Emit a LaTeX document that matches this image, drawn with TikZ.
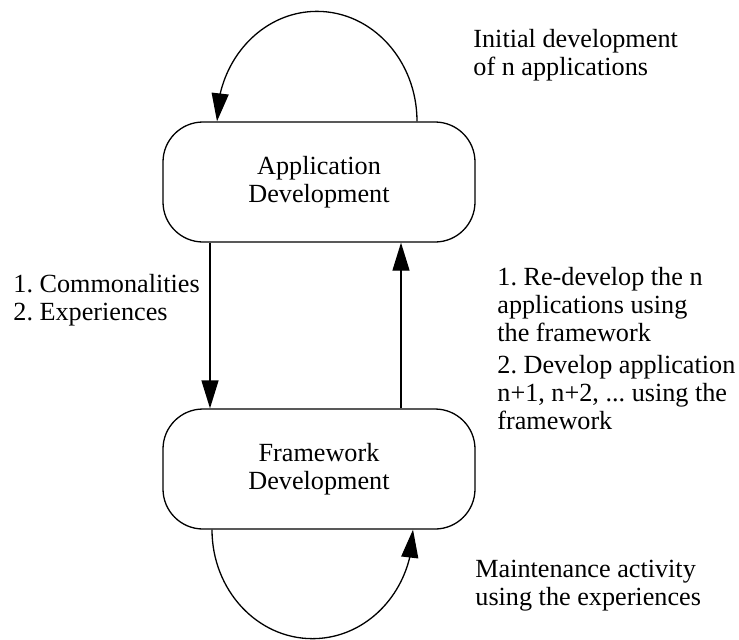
\documentclass[tikz,border=0pt]{standalone}
\usepackage{fontspec}
\setmainfont{Liberation Serif}
\usetikzlibrary{arrows.meta,bending}
\frenchspacing
\begin{document}
\begin{tikzpicture}[x=0.5pt,y=-0.5pt,
  every node/.style={font=\fontsize{13.1pt}{14pt}\selectfont\frenchspacing},
  box/.style={draw,line width=0.65pt,rounded corners=20pt,minimum width=156pt,minimum height=60pt,align=center,inner sep=0pt},
  lbl/.style={anchor=base west,align=left,inner sep=0pt},
  arr/.style={line width=0.65pt,-{Triangle[length=14pt,width=8.5pt,flex]}}]
\useasboundingbox (0,0) rectangle (739,639);
\node[box] (app) at (319,182) {Application\\Development};
\node[box] (fw) at (319,469) {Framework\\Development};
\coordinate (dx) at (210,0);
\coordinate (ux) at (401,0);
\coordinate (tl) at (417,0);
\coordinate (bl) at (212,0);
\draw[arr] (app.south -| dx) -- (fw.north -| dx);
\draw[arr] (fw.north -| ux) -- (app.south -| ux);
\draw[arr] (app.north -| tl) arc[start angle=0,end angle=180,x radius=50pt,y radius=55pt];
\draw[arr] (fw.south -| bl) arc[start angle=180,end angle=360,x radius=50.25pt,y radius=54.5pt];
\node[lbl] (init) at (473,75) {Initial development\\of n applications};
\node[lbl] (left) at (13,320) {1. Commonalities\\2. Experiences};
\node[lbl] (r1) at (497,341) {1. Re-develop the n\\applications using\\the framework};
\node[lbl] (r2) at (497,429) {2. Develop application\\n+1, n+2, ... using the\\framework};
\node[lbl] (maint) at (475,605) {Maintenance activity\\using the experiences};
\end{tikzpicture}
\end{document}
